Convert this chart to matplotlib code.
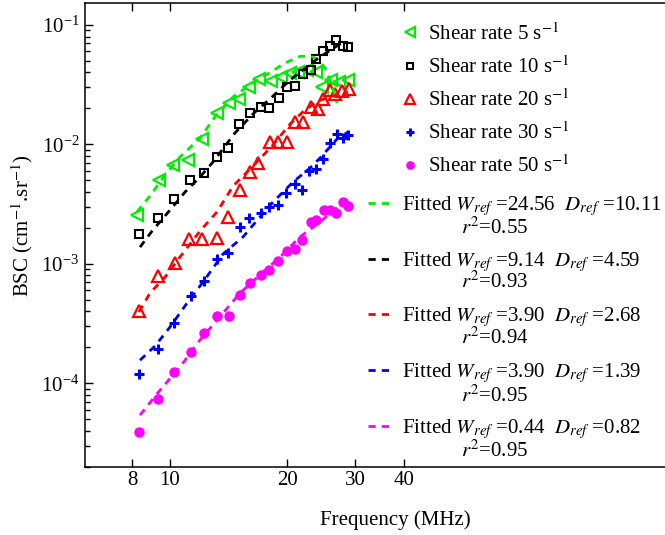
import matplotlib
matplotlib.use("Agg")
import matplotlib.pyplot as plt
from matplotlib.ticker import FixedLocator, NullFormatter, LogLocator, NullLocator

plt.rcParams['font.family'] = 'serif'
plt.rcParams['font.serif'] = ['Liberation Serif', 'DejaVu Serif']
plt.rcParams['mathtext.fontset'] = 'stix'

# measured BSC, one array pair per shear rate
f5 = [8.21, 9.39, 10.20, 11.15, 12.09, 13.19, 14.18, 15.03, 15.97, 16.95,
      18.20, 19.34, 20.37, 21.39, 22.52, 23.75, 24.61, 25.97, 27.23, 28.63]
bsc5 = [2.56e-3, 5.03e-3, 6.72e-3, 7.40e-3, 1.10e-2, 1.82e-2, 2.21e-2, 2.41e-2, 3.00e-2, 3.50e-2,
        3.40e-2, 3.69e-2, 3.93e-2, 4.04e-2, 4.16e-2, 4.04e-2, 3.03e-2, 3.46e-2, 3.33e-2, 3.43e-2]

f10 = [8.32, 9.33, 10.26, 11.26, 12.23, 13.19, 14.13, 15.08, 16.10, 17.10, 18.0,
       19.05, 20.0, 20.94, 22.03, 23.06, 23.78, 24.77, 25.75, 26.8, 27.8, 28.7]
bsc10 = [1.78e-3, 2.40e-3, 3.47e-3, 5.03e-3, 5.79e-3, 7.88e-3, 9.24e-3, 1.48e-2, 1.84e-2, 2.04e-2, 2.03e-2,
         2.43e-2, 3.00e-2, 3.08e-2, 3.91e-2, 4.16e-2, 5.19e-2, 6.04e-2, 6.64e-2, 7.45e-2, 6.64e-2, 6.55e-2]

f20 = [8.34, 9.31, 10.27, 11.22, 12.12, 13.19, 14.13, 15.14, 16.10, 16.88, 18.09,
       19.0, 19.94, 20.97, 21.99, 23.06, 24.03, 24.80, 25.80, 26.65, 27.68, 28.86]
bsc20 = [4.03e-4, 7.98e-4, 1.01e-3, 1.60e-3, 1.60e-3, 1.64e-3, 2.49e-3, 4.19e-3, 5.82e-3, 6.95e-3, 1.05e-2,
         1.05e-2, 1.05e-2, 1.54e-2, 1.54e-2, 2.04e-2, 1.98e-2, 2.38e-2, 2.86e-2, 2.64e-2, 2.80e-2, 2.91e-2]

f30 = [8.34, 9.31, 10.22, 11.29, 12.20, 13.19, 14.13, 15.14, 16.0, 17.1, 17.98,
       19.0, 19.9, 20.97, 21.81, 22.77, 23.8, 24.75, 25.8, 26.9, 27.8, 28.7]
bsc30 = [1.19e-4, 1.92e-4, 3.21e-4, 5.38e-4, 7.15e-4, 1.09e-3, 1.23e-3, 2.05e-3, 2.40e-3, 2.65e-3, 2.99e-3,
         3.08e-3, 3.92e-3, 4.66e-3, 4.15e-3, 5.98e-3, 6.22e-3, 7.55e-3, 1.03e-2, 1.22e-2, 1.13e-2, 1.20e-2]

f50 = [8.34, 9.33, 10.24, 11.30, 12.23, 13.19, 14.18, 15.18, 16.10, 17.10, 18.0,
       19.0, 19.94, 20.97, 21.81, 23.0, 23.81, 24.97, 25.80, 26.74, 27.90, 28.74]
bsc50 = [3.93e-5, 7.33e-5, 1.25e-4, 1.84e-4, 2.65e-4, 3.66e-4, 3.66e-4, 5.43e-4, 6.87e-4, 8.06e-4, 8.83e-4,
         1.06e-3, 1.29e-3, 1.33e-3, 1.58e-3, 2.24e-3, 2.31e-3, 2.85e-3, 2.82e-3, 2.68e-3, 3.30e-3, 3.05e-3]

# fitted curves
ff5 = [8.22, 8.88, 9.71, 10.61, 11.94, 13.06, 14.53, 16.07, 18.08, 19.76, 21.60, 22.92, 24.03, 25.05, 26.11, 26.90]
fit5 = [2.72e-3, 3.70e-3, 5.54e-3, 7.84e-3, 1.13e-2, 1.70e-2, 2.50e-2, 3.15e-2, 4.00e-2, 4.80e-2,
        5.45e-2, 5.50e-2, 5.14e-2, 4.36e-2, 3.15e-2, 2.22e-2]
ff10 = [8.37, 8.99, 10.0, 10.93, 11.94, 12.90, 14.70, 16.55, 18.08, 20.36, 22.52, 24.32, 26.27, 28.20]
fit10 = [1.38e-3, 1.88e-3, 2.82e-3, 3.99e-3, 5.33e-3, 7.12e-3, 1.25e-2, 1.87e-2, 2.40e-2, 3.46e-2,
         4.49e-2, 5.40e-2, 6.36e-2, 7.35e-2]
ff20 = [8.32, 8.88, 9.71, 10.61, 11.94, 13.21, 14.53, 16.35, 18.30, 20.36, 22.12, 24.03, 26.27, 28.71]
fit20 = [3.95e-4, 5.69e-4, 7.75e-4, 1.14e-3, 1.88e-3, 2.72e-3, 4.48e-3, 6.59e-3, 9.69e-3, 1.48e-2,
         1.91e-2, 2.31e-2, 2.54e-2, 2.75e-2]
ff30 = [8.37, 9.15, 10.0, 11.06, 12.16, 13.69, 15.41, 16.35, 18.41, 20.72, 22.92, 24.32, 26.90, 28.71]
fit30 = [1.56e-4, 2.05e-4, 2.96e-4, 4.69e-4, 7.04e-4, 1.21e-3, 1.68e-3, 2.11e-3, 3.29e-3, 4.84e-3,
         6.34e-3, 7.69e-3, 1.11e-2, 1.27e-2]
ff50 = [8.37, 9.43, 10.61, 11.94, 13.21, 15.14, 17.35, 19.19, 21.60, 24.32, 27.38, 28.88]
fit50 = [5.42e-5, 8.77e-5, 1.37e-4, 2.30e-4, 3.38e-4, 5.69e-4, 8.54e-4, 1.14e-3, 1.68e-3, 2.24e-3,
         3.11e-3, 3.42e-3]

shear_labels = ["Shear rate 5 s$^{-1}$", "Shear rate 10 s$^{-1}$", "Shear rate 20 s$^{-1}$",
                "Shear rate 30 s$^{-1}$", "Shear rate 50 s$^{-1}$"]
w_ref = ["24.56", "9.14", "3.90", "3.90", "0.44"]
d_ref = ["10.11", "4.59", "2.68", "1.39", "0.82"]
r2 = ["0.55", "0.93", "0.94", "0.95", "0.95"]

green = '#00ee00'
fig = plt.figure(figsize=(6.65, 5.35), dpi=100)
ax = fig.add_axes([85/665, 68/535, 620/665, 464/535])

pts = []
pts += ax.plot(f5, bsc5, '<', color=green, ms=8.5, mew=1.6, mfc='none', linestyle='none')
pts += ax.plot(f10, bsc10, 's', color='k', ms=6, mew=1.5, mfc='none', linestyle='none')
pts += ax.plot(f20, bsc20, '^', color='r', ms=9, mew=1.6, mfc='none', linestyle='none')
pts += ax.plot(f30, bsc30, '+', color='b', ms=7, mew=2.2, linestyle='none')
pts += ax.plot(f50, bsc50, 'o', color='#ff00ff', ms=6.5, mec='#ff00ff', linestyle='none')

fits = []
dash = (0, (2.6, 2.2))
fits += ax.plot(ff5, fit5, color=green, lw=2, linestyle=dash)
fits += ax.plot(ff10, fit10, color='k', lw=2, linestyle=dash)
fits += ax.plot(ff20, fit20, color='r', lw=2, linestyle=dash)
fits += ax.plot(ff30, fit30, color='b', lw=2, linestyle=dash)
fits += ax.plot(ff50, fit50, color='#ff00ff', lw=2, linestyle=dash)

ax.set_xscale('log')
ax.set_yscale('log')
ax.set_xlim(6.043, 237.9)
ax.set_ylim(1.99e-5, 0.1527)

ax.xaxis.set_major_locator(FixedLocator([8, 10, 20, 30, 40]))
ax.xaxis.set_major_formatter(matplotlib.ticker.FixedFormatter(["8", "10", "20", "30", "40"]))
ax.xaxis.set_minor_locator(NullLocator())
ax.yaxis.set_major_locator(LogLocator(base=10, numticks=10))
ax.yaxis.set_minor_locator(LogLocator(base=10, subs=range(2, 10), numticks=20))
ax.yaxis.set_minor_formatter(NullFormatter())

ax.tick_params(axis='x', which='both', direction='in', top=True, bottom=True, length=6, width=1, labelsize=15, pad=3)
ax.tick_params(axis='y', which='major', direction='in', left=True, right=False, length=6, width=1, labelsize=15, pad=4)
ax.tick_params(axis='y', which='minor', direction='in', left=True, right=False, length=3.5, width=1)
ax.spines['right'].set_visible(False)
for s in ['left', 'top', 'bottom']:
    ax.spines[s].set_linewidth(1.1)

ax.set_xlabel("Frequency (MHz)", fontsize=15)
ax.set_ylabel("BSC (cm$^{-1}$.sr$^{-1}$)", fontsize=15)
ax.xaxis.set_label_coords(0.5, -0.093)
ax.yaxis.set_label_coords(-0.080, 0.52)

leg1 = ax.legend(pts, shear_labels, loc='upper left', bbox_to_anchor=(399.6/665, 1 - 23/535),
                 bbox_transform=fig.transFigure, frameon=False, fontsize=15, handlelength=1.0,
                 handletextpad=0.37, borderpad=0, borderaxespad=0, labelspacing=0.55, markerscale=0.8)
ax.add_artist(leg1)

fit_labels = ["Fitted $W_{ref}$ =%s  $D_{ref}$ =%s" % (w, d) for w, d in zip(w_ref, d_ref)]
leg2 = ax.legend(fits, fit_labels, loc='upper left', bbox_to_anchor=(368/665, 1 - 194/535),
                 bbox_transform=fig.transFigure, frameon=False, fontsize=15, handlelength=1.2,
                 handletextpad=0.43, borderpad=0, borderaxespad=0, labelspacing=1.53)

r2_y = [233.3, 287.3, 344, 401.7, 456.7]
for val, yb in zip(r2, r2_y):
    fig.text(461/665, 1 - yb/535, "$r^2$=" + val, fontsize=15, ha='left', va='baseline')

fig.savefig("out.png", dpi=100)
